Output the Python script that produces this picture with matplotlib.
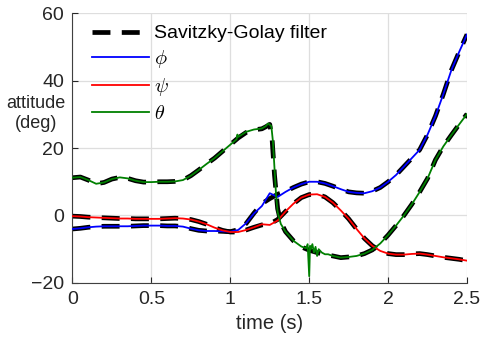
import matplotlib

matplotlib.use("Agg")
import matplotlib.pyplot as plt

# time axis (s), 0.05 s steps with a few extra samples around the fast transitions
t = [0.00, 0.05, 0.10, 0.15, 0.20, 0.25, 0.30, 0.35, 0.40, 0.45,
     0.50, 0.55, 0.60, 0.65, 0.70, 0.75, 0.80, 0.85, 0.90, 0.95,
     1.00, 1.05, 1.10, 1.15, 1.20, 1.25, 1.30, 1.35, 1.40, 1.45,
     1.50, 1.55, 1.60, 1.65, 1.70, 1.75, 1.80, 1.85, 1.90, 1.95,
     2.00, 2.05, 2.10, 2.15, 2.20, 2.25, 2.30, 2.35, 2.40, 2.45, 2.50]

# raw phi / psi
phi = [-4.0, -3.8, -3.5, -3.3, -3.2, -3.2, -3.2, -3.2, -3.1, -3.0,
       -3.0, -3.0, -3.1, -3.1, -3.3, -3.9, -4.4, -4.6, -4.6, -4.7,
       -4.8, -4.3, -2.3, 0.6, 2.8, 6.6, 5.5, 7.0, 8.3, 9.3,
       10.0, 10.0, 9.5, 8.7, 7.8, 7.0, 6.7, 6.6, 7.2, 8.3,
       10.0, 12.0, 14.5, 17.0, 19.5, 24.0, 29.5, 36.0, 43.0, 48.5, 53.7]
psi = [-0.2, -0.3, -0.5, -0.6, -0.7, -0.8, -0.9, -0.9, -1.0, -1.0,
       -1.0, -1.0, -0.9, -0.8, -0.9, -1.2, -1.8, -2.6, -3.6, -4.4,
       -4.9, -4.9, -4.3, -3.5, -2.6, -2.8, -1.5, 1.2, 3.5, 5.3,
       6.2, 6.3, 5.5, 3.8, 1.5, -1.0, -4.0, -6.8, -9.0, -10.5,
       -11.3, -11.6, -11.6, -11.4, -11.3, -11.6, -12.0, -12.4, -12.7, -13.0, -13.4]

# raw theta has its own (denser) time base around the drop and the noisy part
t_theta = [0.00, 0.05, 0.10, 0.15, 0.20, 0.25, 0.30, 0.35, 0.40, 0.45,
           0.50, 0.55, 0.60, 0.65, 0.70, 0.75, 0.80, 0.85, 0.90, 0.95,
           1.00, 1.04, 1.045, 1.05, 1.10, 1.15, 1.20, 1.225, 1.24, 1.26,
           1.27, 1.28, 1.29, 1.30, 1.32, 1.35, 1.40, 1.45, 1.48, 1.49,
           1.50, 1.505, 1.51, 1.52, 1.53, 1.54, 1.55, 1.56, 1.58, 1.60,
           1.62, 1.65, 1.70, 1.75, 1.80, 1.85, 1.90, 1.95, 2.00, 2.05,
           2.10, 2.15, 2.20, 2.25, 2.30, 2.35, 2.40, 2.45, 2.50]
theta = [11.2, 11.4, 10.5, 9.4, 9.8, 10.8, 11.3, 11.0, 10.3, 9.9,
         9.9, 10.0, 10.0, 10.1, 10.5, 11.8, 13.5, 15.3, 17.0, 19.0,
         21.0, 22.6, 24.0, 23.3, 24.8, 25.5, 25.8, 26.5, 27.3, 26.5,
         22.0, 14.0, 6.0, 1.0, -2.5, -4.8, -7.5, -9.2, -9.7, -8.5,
         -18.0, -9.0, -10.0, -8.5, -11.0, -9.3, -12.0, -10.0, -11.0, -11.5,
         -11.5, -12.0, -12.5, -12.3, -12.0, -11.3, -10.2, -8.3, -5.8, -3.0,
         0.0, 3.3, 7.0, 11.0, 16.5, 20.5, 23.8, 27.0, 30.1]

# Savitzky-Golay filtered versions (on t)
phi_sg = [-4.0, -3.8, -3.5, -3.3, -3.2, -3.2, -3.2, -3.2, -3.1, -3.0,
          -3.0, -3.0, -3.1, -3.1, -3.3, -3.9, -4.4, -4.6, -4.6, -4.7,
          -4.8, -4.2, -2.4, 0.7, 3.5, 5.0, 6.3, 7.1, 8.3, 9.3,
          10.0, 10.0, 9.5, 8.7, 7.8, 7.0, 6.7, 6.6, 7.2, 8.3,
          10.0, 12.0, 14.5, 17.0, 19.5, 24.0, 29.5, 36.0, 43.0, 48.5, 53.7]
psi_sg = [-0.2, -0.3, -0.5, -0.6, -0.7, -0.8, -0.9, -0.9, -1.0, -1.0,
          -1.0, -1.0, -0.9, -0.8, -0.9, -1.2, -1.8, -2.6, -3.6, -4.4,
          -4.9, -4.9, -4.3, -3.5, -2.8, -2.5, -1.2, 1.2, 3.5, 5.3,
          6.2, 6.3, 5.5, 3.8, 1.5, -1.0, -4.0, -6.8, -9.0, -10.5,
          -11.3, -11.6, -11.6, -11.4, -11.3, -11.6, -12.0, -12.4, -12.7, -13.0, -13.4]
t_theta_sg = [0.00, 0.05, 0.10, 0.15, 0.20, 0.25, 0.30, 0.35, 0.40, 0.45,
              0.50, 0.55, 0.60, 0.65, 0.70, 0.75, 0.80, 0.85, 0.90, 0.95,
              1.00, 1.05, 1.10, 1.15, 1.20, 1.225, 1.25, 1.265, 1.28, 1.30,
              1.32, 1.35, 1.40, 1.45, 1.50, 1.55, 1.60, 1.65, 1.70, 1.75,
              1.80, 1.85, 1.90, 1.95, 2.00, 2.05, 2.10, 2.15, 2.20, 2.25,
              2.30, 2.35, 2.40, 2.45, 2.50]
theta_sg = [11.2, 11.4, 10.5, 9.4, 9.8, 10.8, 11.3, 11.0, 10.3, 9.9,
            9.9, 10.0, 10.0, 10.1, 10.5, 11.8, 13.5, 15.3, 17.0, 19.0,
            21.0, 23.0, 24.6, 25.4, 25.7, 26.3, 27.0, 22.5, 12.0, 2.0,
            -2.0, -4.8, -7.5, -9.3, -10.3, -11.0, -11.6, -12.0, -12.5, -12.3,
            -12.0, -11.3, -10.2, -8.3, -5.8, -3.0, 0.0, 3.3, 7.0, 11.0,
            16.5, 20.5, 23.8, 27.0, 30.1]

xticks = [0, 0.5, 1, 1.5, 2, 2.5]
yticks = [-20, 0, 20, 40, 60]

plt.rcParams["font.family"] = ["Liberation Sans", "DejaVu Sans"]
plt.rcParams["mathtext.fontset"] = "cm"

fig = plt.figure(figsize=(4.8, 3.55), dpi=100)
ax = fig.add_axes([0.151, 0.203, 0.822, 0.760])

sg_style = dict(color="black", lw=3.4, dashes=(3.8, 2.4), solid_capstyle="butt")
ax.plot(t, phi_sg, label="Savitzky-Golay filter", zorder=2, **sg_style)
ax.plot(t, psi_sg, zorder=2, **sg_style)
ax.plot(t_theta_sg, theta_sg, zorder=2, **sg_style)

ax.plot(t, phi, color="#0000ff", lw=1.3, label=r"$\phi$", zorder=3)
ax.plot(t, psi, color="#ff0000", lw=1.3, label=r"$\psi$", zorder=3)
ax.plot(t_theta, theta, color="#008000", lw=1.3, label=r"$\theta$", zorder=3)

ax.set_xlim(0, 2.5)
ax.set_ylim(-20, 60)
ax.set_xticks(xticks)
ax.set_xticklabels(["0", "0.5", "1", "1.5", "2", "2.5"])
ax.set_yticks(yticks)
ax.grid(True, color="#dedede", lw=0.9)
ax.set_axisbelow(True)
for s in ("top", "right"):
    ax.spines[s].set_visible(False)
for s in ("left", "bottom"):
    ax.spines[s].set_color("#404040")
ax.tick_params(direction="in", length=4, colors="#262626", labelsize=14, pad=6)

ax.set_xlabel("time (s)", fontsize=14.5, color="#262626", labelpad=4)
fig.text(0.075, 0.68, "attitude\n(deg)", fontsize=13, ha="center", va="center",
         color="#262626", linespacing=1.2)

leg = ax.legend(loc="upper left", bbox_to_anchor=(0.02, 1.0), frameon=False,
                fontsize=14, handlelength=2.95, handletextpad=0.25,
                labelspacing=0.3, borderaxespad=0.2)
for txt in leg.get_texts()[1:]:
    txt.set_fontsize(14.5)

fig.savefig("out.png", dpi=100)
